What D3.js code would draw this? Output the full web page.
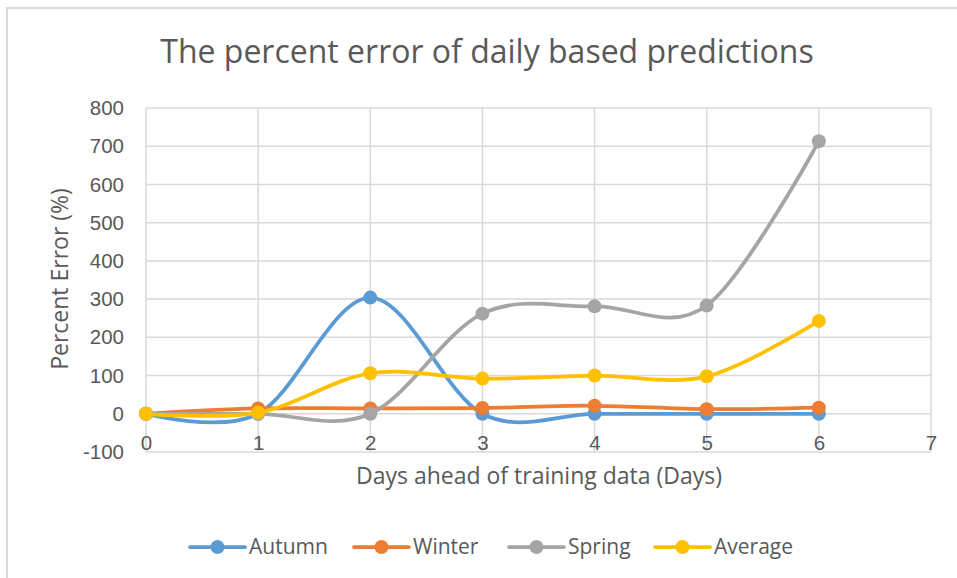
<!DOCTYPE html>
<html>
<head>
<meta charset="utf-8">
<script src="https://cdn.jsdelivr.net/npm/d3@7"></script>
<style>
  body { margin: 0; background: #fff; }
  svg { display: block; font-family: "Open Sans", "DejaVu Sans", sans-serif; }
</style>
</head>
<body>
<svg id="chart" width="957" height="578"></svg>
<script>
"use strict";

// data
var days = [0, 1, 2, 3, 4, 5, 6];
var autumn = [0, 0, 304, 0, 0, 0, 0];
var winter = [0, 14, 14, 15, 21, 12, 16];
var spring = [0, 0, 0, 262, 281, 283, 713];
var average = [0, 3, 106, 92, 100, 98, 243];
var seriesNames = ["Autumn", "Winter", "Spring", "Average"];
var seriesColors = ["#5b9bd5", "#ed7d31", "#a5a5a5", "#ffc000"];
var xTicks = [0, 1, 2, 3, 4, 5, 6, 7];
var yTicks = [-100, 0, 100, 200, 300, 400, 500, 600, 700, 800];

var TEXT_COLOR = "#595959";
var GRID_COLOR = "#d9d9d9";
var LINE_WIDTH = 3.75;
var MARKER_R = 7;

var svg = d3.select("#chart");
var allSeries = [autumn, winter, spring, average];

// chart frame
svg.append("path")
  .attr("d", "M7,578 V8 H957")
  .attr("fill", "none")
  .attr("stroke", GRID_COLOR)
  .attr("stroke-width", 2);

var x = d3.scaleLinear().domain([0, 7]).range([146, 931]);
var y = d3.scaleLinear().domain([-100, 800]).range([452, 108]);

// gridlines
svg.append("g").selectAll("line")
  .data(yTicks)
  .enter().append("line")
  .attr("x1", x(0)).attr("x2", x(7))
  .attr("y1", function (d) { return y(d); })
  .attr("y2", function (d) { return y(d); })
  .attr("stroke", GRID_COLOR)
  .attr("stroke-width", 1.5);

svg.append("g").selectAll("line")
  .data(xTicks)
  .enter().append("line")
  .attr("y1", y(-100)).attr("y2", y(800))
  .attr("x1", function (d) { return x(d); })
  .attr("x2", function (d) { return x(d); })
  .attr("stroke", GRID_COLOR)
  .attr("stroke-width", 1.5);

// y axis labels
var yAxis = d3.axisLeft(y).tickValues(yTicks).tickSize(0).tickPadding(22)
  .tickFormat(function (d) { return String(d); });
var gy = svg.append("g").attr("transform", "translate(" + x(0) + ",0)").call(yAxis);
gy.select(".domain").remove();
gy.selectAll("text").attr("fill", TEXT_COLOR).style("font-size", "20.5px").style("font-family", "inherit");

// x axis labels, sitting under the zero line
var xAxis = d3.axisBottom(x).tickValues(xTicks).tickSize(0).tickPadding(22)
  .tickFormat(function (d) { return String(d); });
var gx = svg.append("g").attr("transform", "translate(0," + y(0) + ")").call(xAxis);
gx.select(".domain").remove();
gx.selectAll("text").attr("fill", TEXT_COLOR).style("font-size", "20.5px").style("font-family", "inherit");

// lines
var lineGen = d3.line()
  .x(function (d, i) { return x(days[i]); })
  .y(function (d) { return y(d); })
  .curve(d3.curveCardinal);

var seriesG = svg.append("g").selectAll("g.series")
  .data(allSeries)
  .enter().append("g")
  .attr("class", "series");

seriesG.append("path")
  .attr("d", lineGen)
  .attr("fill", "none")
  .attr("stroke", function (d, i) { return seriesColors[i]; })
  .attr("stroke-width", LINE_WIDTH)
  .attr("stroke-linecap", "round");

seriesG.each(function (vals, si) {
  d3.select(this).selectAll("circle")
    .data(vals)
    .enter().append("circle")
    .attr("cx", function (d, i) { return x(days[i]); })
    .attr("cy", function (d) { return y(d); })
    .attr("r", MARKER_R)
    .attr("fill", seriesColors[si]);
});

// titles
svg.append("text")
  .attr("x", 487).attr("y", 63)
  .attr("text-anchor", "middle")
  .attr("fill", TEXT_COLOR)
  .style("font-size", "32px")
  .text("The percent error of daily based predictions");

svg.append("text")
  .attr("x", 539).attr("y", 484)
  .attr("text-anchor", "middle")
  .attr("fill", TEXT_COLOR)
  .style("font-size", "23px")
  .text("Days ahead of training data (Days)");

svg.append("text")
  .attr("transform", "translate(68,279) rotate(-90)")
  .attr("text-anchor", "middle")
  .attr("fill", TEXT_COLOR)
  .style("font-size", "23px")
  .text("Percent Error (%)");

// legend
var legendX = [190, 354, 509, 655];
var legend = svg.append("g").selectAll("g")
  .data(seriesNames)
  .enter().append("g")
  .attr("transform", function (d, i) { return "translate(" + legendX[i] + ",547)"; });

legend.append("line")
  .attr("x1", 0).attr("x2", 55)
  .attr("stroke", function (d, i) { return seriesColors[i]; })
  .attr("stroke-width", LINE_WIDTH)
  .attr("stroke-linecap", "round");

legend.append("circle")
  .attr("cx", 27.5).attr("r", MARKER_R)
  .attr("fill", function (d, i) { return seriesColors[i]; });

legend.append("text")
  .attr("x", 59).attr("dy", "0.35em")
  .attr("fill", TEXT_COLOR)
  .style("font-size", "21px")
  .text(function (d) { return d; });
</script>
</body>
</html>
